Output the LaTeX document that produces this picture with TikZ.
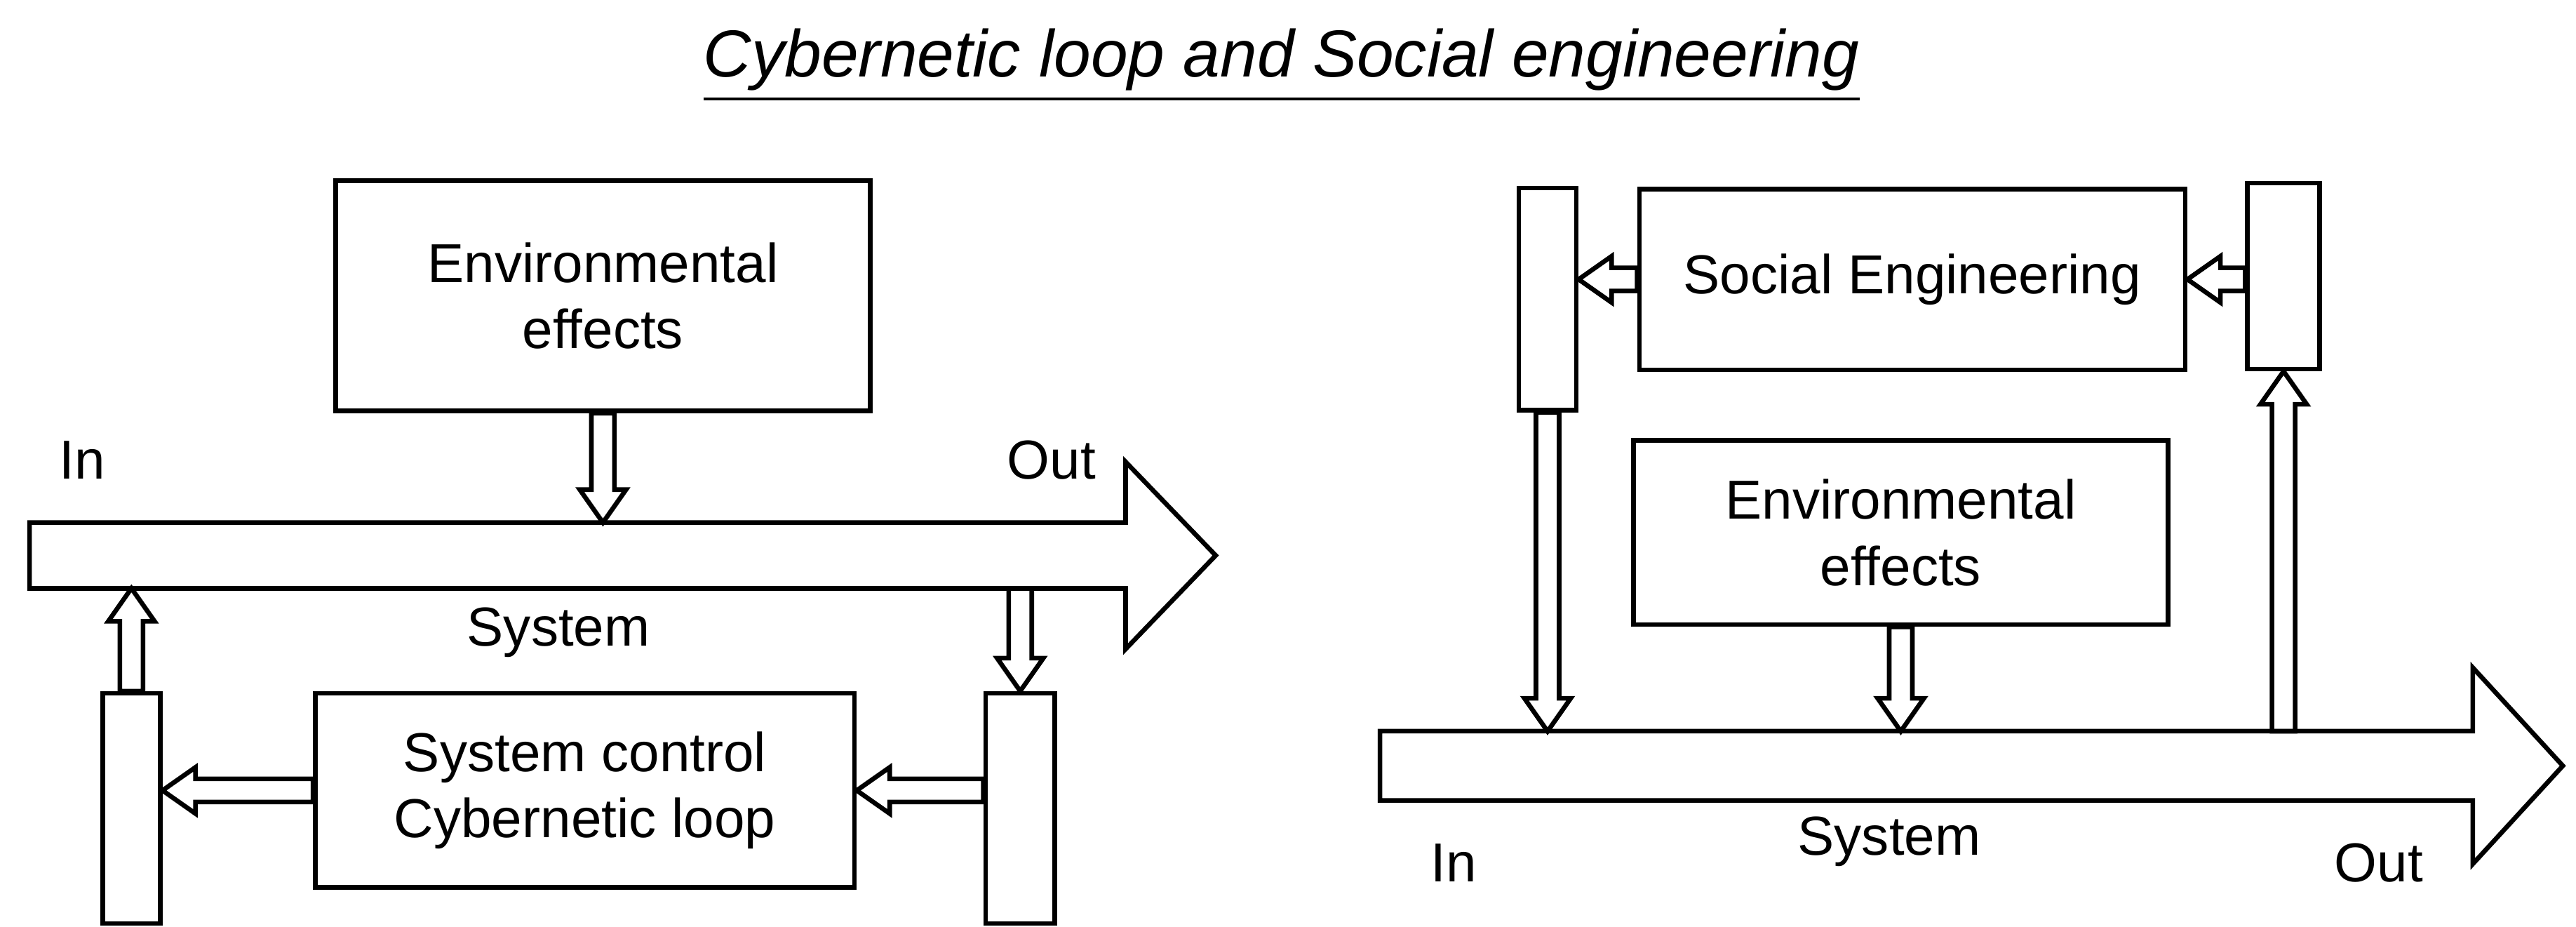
\documentclass[tikz,border=0pt]{standalone}
\usepackage{fontspec}
\setmainfont{Liberation Sans}
\usetikzlibrary{calc}

% hollow arrow: #1 shaft half width, #2 head half width, #3 head length, #4 from, #5 to
\newcommand{\harrow}[5]{%
  \draw[thick] let \p1=($(#5)-(#4)$), \n1={atan2(\y1,\x1)}, \n2={veclen(\x1,\y1)} in
    [shift={(#4)},rotate=\n1]
    (0pt,-#1) -- ({\n2*1pt-#3},-#1) -- ({\n2*1pt-#3},-#2) -- ({\n2*1pt},0pt)
    -- ({\n2*1pt-#3},#2) -- ({\n2*1pt-#3},#1) -- (0pt,#1) -- cycle;}

\tikzset{
  box/.style={draw, thick, inner sep=0pt, font=\fontsize{9.5}{11.5}\selectfont, align=center},
  lbl/.style={font=\fontsize{9.5}{11.5}\selectfont}
}

\begin{document}
\begin{tikzpicture}[x=0.01cm,y=-0.01cm]
\useasboundingbox (0,0) rectangle (1568,564);

\node[font=\fontsize{11.5}{13}\selectfont\itshape] (title) at (780,40) {\underline{Cybernetic loop and Social engineering}};

% left: cybernetic loop
\node[box, minimum width=3.25cm, minimum height=1.4cm] (env1) at (367,180) {Environmental\\effects};
\coordinate (sysL) at (18,338);
\coordinate (sysLtip) at (740,338);
\harrow{5.7pt}{16.2pt}{15.6pt}{sysL}{sysLtip}
\node[lbl] (in1) at (50,280) {In};
\node[lbl] (out1) at (640,280) {Out};
\node[lbl] (sys1) at (340,385) {System};

\node[box, minimum width=3.28cm, minimum height=1.18cm] (ctrl) at (356,481) {System control\\Cybernetic loop};
\node[box, minimum width=0.42cm, minimum height=1.4cm] (barR1) at (621,492) {};
\node[box, minimum width=0.35cm, minimum height=1.4cm] (barL1) at (80,492) {};

\coordinate (e1b) at (367,318);
\coordinate (d1a) at (621,358);
\coordinate (u1b) at (80,358);
\harrow{2pt}{4pt}{5.7pt}{env1.south}{e1b}
\harrow{2pt}{4pt}{5.7pt}{d1a}{barR1.north}
\harrow{2pt}{4pt}{5.7pt}{barR1.west|-ctrl}{ctrl.east}
\harrow{2pt}{4pt}{5.7pt}{ctrl.west}{barL1.east|-ctrl}
\harrow{2pt}{4pt}{5.7pt}{barL1.north}{u1b}

% right: social engineering
\node[box, minimum width=0.35cm, minimum height=1.35cm] (barL2) at (942,182) {};
\node[box, minimum width=3.32cm, minimum height=1.1cm] (soc) at (1164,170) {Social Engineering};
\node[box, minimum width=0.44cm, minimum height=1.13cm] (barR2) at (1390,168) {};
\node[box, minimum width=3.25cm, minimum height=1.12cm] (env2) at (1157,324) {Environmental\\effects};
\coordinate (sysR) at (840,466);
\coordinate (sysRtip) at (1560,466);
\harrow{6pt}{17pt}{15.6pt}{sysR}{sysRtip}
\node[lbl] (in2) at (885,525) {In};
\node[lbl] (sys2) at (1150,512) {System};
\node[lbl] (out2) at (1448,525) {Out};

\coordinate (s3b) at (942,445);
\coordinate (s4b) at (1157,445);
\coordinate (s5a) at (1390,445);
\harrow{2pt}{4pt}{5.7pt}{barR2.west|-soc}{soc.east}
\harrow{2pt}{4pt}{5.7pt}{soc.west}{barL2.east|-soc}
\harrow{2pt}{4pt}{5.7pt}{barL2.south}{s3b}
\harrow{2pt}{4pt}{5.7pt}{env2.south}{s4b}
\harrow{2pt}{4pt}{5.7pt}{s5a}{barR2.south}
\end{tikzpicture}
\end{document}
